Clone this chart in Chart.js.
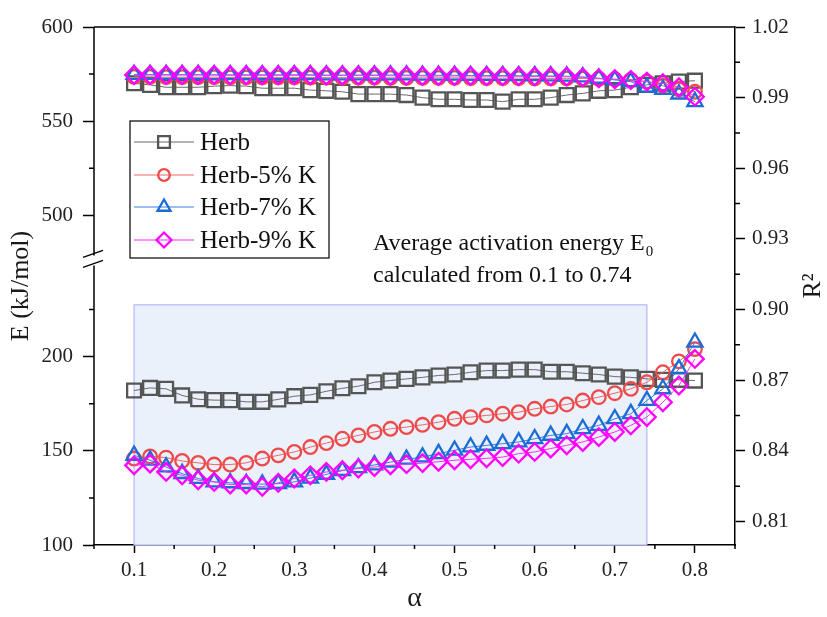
<!DOCTYPE html>
<html>
<head>
<meta charset="utf-8">
<script src="https://cdn.jsdelivr.net/npm/chart.js@4.4.0/dist/chart.umd.min.js"></script>
<style>
  html, body { margin: 0; padding: 0; background: #fff; }
</style>
</head>
<body>
<canvas id="chart" width="827" height="617"></canvas>
<script>
// conversion degree
const alpha = [0.10, 0.12, 0.14, 0.16, 0.18, 0.20, 0.22, 0.24, 0.26, 0.28, 0.30, 0.32,
               0.34, 0.36, 0.38, 0.40, 0.42, 0.44, 0.46, 0.48, 0.50, 0.52, 0.54, 0.56,
               0.58, 0.60, 0.62, 0.64, 0.66, 0.68, 0.70, 0.72, 0.74, 0.76, 0.78, 0.80];

// activation energy E (kJ/mol), left axis
const herbE = [182.0, 183.4, 182.9, 179.4, 177.4, 176.9, 176.9, 176.0, 176.0, 177.3, 179.0, 179.7,
               181.6, 183.2, 184.3, 186.4, 187.3, 188.2, 189.0, 190.0, 190.5, 191.7, 192.6, 192.6,
               193.1, 193.1, 192.0, 192.0, 191.2, 190.5, 189.4, 189.0, 188.2, 187.7, 187.7, 187.3];
const k5E   = [145.9, 147.0, 146.4, 144.6, 143.6, 142.7, 142.7, 143.6, 145.9, 147.6, 149.4, 152.0,
               154.1, 156.4, 158.2, 160.0, 161.7, 162.6, 163.8, 165.2, 167.0, 167.9, 168.8, 169.7,
               170.5, 172.3, 173.5, 174.6, 176.7, 178.5, 180.6, 182.9, 186.4, 191.7, 197.5, 204.0];
const k7E   = [147.6, 145.0, 141.4, 137.9, 135.3, 133.5, 133.0, 132.6, 132.3, 132.6, 133.5, 135.5,
               137.5, 139.5, 141.0, 142.5, 144.0, 145.5, 146.7, 148.5, 150.3, 152.0, 152.9, 153.8,
               154.7, 156.4, 158.2, 159.1, 161.7, 163.5, 167.0, 169.7, 176.7, 182.9, 193.5, 207.6];
const k9E   = [142.3, 143.2, 138.8, 137.0, 134.4, 133.5, 132.1, 132.1, 130.9, 133.0, 135.3, 137.0,
               138.8, 139.7, 140.6, 141.4, 142.3, 142.9, 143.5, 144.2, 145.0, 145.5, 146.0, 146.7,
               148.5, 149.4, 151.2, 152.9, 154.7, 157.3, 160.0, 163.5, 167.9, 175.8, 184.7, 198.8];

// correlation coefficient R2, right axis
const herbR = [0.9961, 0.9954, 0.9944, 0.9944, 0.9944, 0.9949, 0.9951, 0.9949, 0.9940, 0.9940, 0.9940, 0.9932,
               0.9929, 0.9925, 0.9915, 0.9915, 0.9915, 0.9911, 0.9900, 0.9893, 0.9893, 0.9890, 0.9890, 0.9883,
               0.9893, 0.9893, 0.9900, 0.9911, 0.9918, 0.9929, 0.9932, 0.9944, 0.9954, 0.9961, 0.9968, 0.9972];
const k5R   = [0.9988, 0.9988, 0.9987, 0.9987, 0.9987, 0.9987, 0.9986, 0.9986, 0.9986, 0.9986, 0.9986, 0.9985,
               0.9985, 0.9985, 0.9985, 0.9985, 0.9984, 0.9984, 0.9984, 0.9984, 0.9984, 0.9983, 0.9983, 0.9983,
               0.9983, 0.9982, 0.9982, 0.9982, 0.9981, 0.9980, 0.9978, 0.9975, 0.9968, 0.9950, 0.9935, 0.9925];
const k7R   = [0.9998, 0.9998, 0.9998, 0.9998, 0.9998, 0.9997, 0.9997, 0.9997, 0.9997, 0.9997, 0.9997, 0.9997,
               0.9996, 0.9996, 0.9996, 0.9996, 0.9996, 0.9996, 0.9995, 0.9995, 0.9995, 0.9994, 0.9994, 0.9994,
               0.9993, 0.9993, 0.9992, 0.9991, 0.9988, 0.9982, 0.9975, 0.9968, 0.9944, 0.9935, 0.9915, 0.9883];
const k9R   = [0.9996, 0.9996, 0.9996, 0.9996, 0.9996, 0.9996, 0.9995, 0.9995, 0.9995, 0.9995, 0.9995, 0.9995,
               0.9994, 0.9994, 0.9994, 0.9994, 0.9993, 0.9993, 0.9992, 0.9992, 0.9992, 0.9992, 0.9991, 0.9991,
               0.9991, 0.9990, 0.9990, 0.9989, 0.9986, 0.9982, 0.9978, 0.9975, 0.9968, 0.9961, 0.9944, 0.9904];

const seriesNames = ['Herb', 'Herb-5% K', 'Herb-7% K', 'Herb-9% K'];

// axis ticks (left axis is broken: 250..475 is cut out)
const xTicks = [0.1, 0.2, 0.3, 0.4, 0.5, 0.6, 0.7, 0.8];
const eTicks = [100, 150, 200, 500, 550, 600];
const r2Ticks = [0.81, 0.84, 0.87, 0.90, 0.93, 0.96, 0.99, 1.02];
const BREAK_LO = 250, BREAK_HI = 475;

// shaded averaging window
const avgFrom = 0.1, avgTo = 0.74, avgTop = 227.5;

const SERIF = '"Liberation Serif", "Times New Roman", serif';
const colors = ['#555555', '#ef4a4a', '#1c6cd6', '#ff00ff'];
const lineColors = ['#6a6a6a', '#f06666', '#3a80df', '#ff2eff'];
const styles = [
  { pointStyle: 'rect', radius: 9.8 },
  { pointStyle: 'circle', radius: 6.8 },
  { pointStyle: 'triangle', radius: 8.8 },
  { pointStyle: 'rectRot', radius: 8.8 }
];

const cut = BREAK_HI - BREAK_LO;
const toAxis = v => (v >= BREAK_HI ? v - cut : v);
const fromAxis = v => (v > BREAK_LO ? v + cut : v);

function pts(ys) {
  return alpha.map((a, i) => ({ x: a, y: toAxis(ys[i]) }));
}
function ptsR(ys) {
  return alpha.map((a, i) => ({ x: a, y: ys[i] }));
}

const eSets = [herbE, k5E, k7E, k9E];
const rSets = [herbR, k5R, k7R, k9R];
const datasets = [];
for (let i = 0; i < 4; i++) {
  const base = {
    label: seriesNames[i],
    borderColor: lineColors[i],
    borderWidth: 1,
    pointStyle: styles[i].pointStyle,
    pointRadius: styles[i].radius,
    pointBorderColor: colors[i],
    pointBackgroundColor: 'rgba(0,0,0,0)',
    pointBorderWidth: 2.3,
    showLine: true,
    order: 4 - i
  };
  datasets.push(Object.assign({}, base, { data: pts(eSets[i]), yAxisID: 'y' }));
  datasets.push(Object.assign({}, base, { data: ptsR(rSets[i]), yAxisID: 'y2' }));
}

const decor = {
  id: 'decor',
  beforeDatasetsDraw(chart) {
    const { ctx, scales: { x, y } } = chart;
    const x0 = x.getPixelForValue(avgFrom), x1 = x.getPixelForValue(avgTo);
    const yb = y.getPixelForValue(100), yt = y.getPixelForValue(avgTop);
    ctx.save();
    ctx.fillStyle = '#eaf1fa';
    ctx.fillRect(x0, yt, x1 - x0, yb - yt);
    ctx.strokeStyle = '#b2b8f5';
    ctx.lineWidth = 1.2;
    ctx.strokeRect(x0, yt, x1 - x0, yb - yt);
    ctx.restore();
  },
  afterDraw(chart) {
    const { ctx, chartArea: ca, scales: { x, y, y2 } } = chart;
    ctx.save();
    ctx.strokeStyle = '#000';
    ctx.lineWidth = 1.5;

    // top frame
    ctx.beginPath();
    ctx.moveTo(ca.left, ca.top);
    ctx.lineTo(ca.right, ca.top);
    ctx.stroke();

    // left axis with break
    const yBreak = y.getPixelForValue(BREAK_LO);
    ctx.beginPath();
    ctx.moveTo(ca.left, ca.top);
    ctx.lineTo(ca.left, yBreak - 7);
    ctx.moveTo(ca.left, yBreak + 3);
    ctx.lineTo(ca.left, ca.bottom);
    ctx.stroke();
    ctx.lineWidth = 1.3;
    ctx.beginPath();
    ctx.moveTo(ca.left - 11, yBreak - 5);
    ctx.lineTo(ca.left + 9, yBreak - 12);
    ctx.moveTo(ca.left - 11, yBreak + 5);
    ctx.lineTo(ca.left + 9, yBreak - 2);
    ctx.stroke();

    // minor ticks
    ctx.lineWidth = 1.5;
    ctx.beginPath();
    [125, 175, 225, 525, 575].forEach(v => {
      const p = y.getPixelForValue(toAxis(v));
      ctx.moveTo(ca.left - 5, p); ctx.lineTo(ca.left, p);
    });
    [0.825, 0.855, 0.885, 0.915, 0.945, 0.975, 1.005].forEach(v => {
      const p = y2.getPixelForValue(v);
      ctx.moveTo(ca.right, p); ctx.lineTo(ca.right + 5, p);
    });
    [0.05, 0.15, 0.25, 0.35, 0.45, 0.55, 0.65, 0.75, 0.85].forEach(v => {
      const p = x.getPixelForValue(v);
      ctx.moveTo(p, ca.bottom); ctx.lineTo(p, ca.bottom + 4);
    });
    ctx.stroke();

    // right axis title
    ctx.fillStyle = '#1a1a1a';
    ctx.font = '26px ' + SERIF;
    ctx.textAlign = 'center';
    ctx.textBaseline = 'middle';
    ctx.translate(813, 286);
    ctx.rotate(-Math.PI / 2);
    ctx.fillText('R²', 0, 0);
    ctx.restore();

    // legend
    ctx.save();
    const lx = 130, ly = 121, lw = 199, lh = 137;
    ctx.fillStyle = '#fff';
    ctx.fillRect(lx, ly, lw, lh);
    ctx.strokeStyle = '#000';
    ctx.lineWidth = 1.2;
    ctx.strokeRect(lx, ly, lw, lh);
    const rows = [142, 175, 207, 240];
    ctx.font = '25px ' + SERIF;
    ctx.textBaseline = 'middle';
    rows.forEach((ry, i) => {
      ctx.strokeStyle = lineColors[i];
      ctx.lineWidth = 1.2;
      ctx.beginPath();
      ctx.moveTo(134, ry); ctx.lineTo(194, ry);
      ctx.stroke();
      ctx.strokeStyle = colors[i];
      ctx.fillStyle = 'rgba(0,0,0,0)';
      ctx.lineWidth = 2.3;
      Chart.helpers.drawPoint(ctx, {
        pointStyle: styles[i].pointStyle, radius: styles[i].radius * 0.85, rotation: 0, borderWidth: 2.3
      }, 164, ry);
      ctx.fillStyle = '#111';
      ctx.fillText(seriesNames[i], 200, ry + 1);
    });

    // annotation
    ctx.textBaseline = 'alphabetic';
    ctx.font = '24px ' + SERIF;
    const line1 = 'Average activation energy E';
    ctx.fillText(line1, 373, 250);
    const w1 = ctx.measureText(line1).width;
    ctx.font = '15px ' + SERIF;
    ctx.fillText('0', 373 + w1 + 1, 256);
    ctx.font = '24px ' + SERIF;
    ctx.fillText('calculated from 0.1 to 0.74', 373, 282);
    ctx.restore();
  }
};

new Chart(document.getElementById('chart'), {
  type: 'scatter',
  data: { datasets },
  options: {
    responsive: false,
    animation: false,
    layout: { padding: { top: 27, left: 0, right: 0, bottom: 0 } },
    plugins: { legend: { display: false }, tooltip: { enabled: false } },
    scales: {
      x: {
        type: 'linear',
        min: 0.05, max: 0.85,
        afterBuildTicks: s => { s.ticks = xTicks.map(v => ({ value: v })); },
        afterFit: s => { s.height = 72; },
        ticks: { padding: 5, color: '#222', font: { family: SERIF, size: 21 }, callback: v => v.toFixed(1) },
        grid: { drawOnChartArea: false, tickLength: 8, tickColor: '#000', tickWidth: 1.5 },
        border: { color: '#000', width: 1.5 },
        title: { display: true, text: 'α', color: '#1a1a1a', font: { family: SERIF, size: 28 }, padding: { top: 0, bottom: 2 } }
      },
      y: {
        type: 'linear',
        position: 'left',
        min: 100, max: toAxis(600),
        afterBuildTicks: s => { s.ticks = eTicks.map(v => ({ value: toAxis(v) })); },
        afterFit: s => { s.width = 94; },
        ticks: { padding: 10, color: '#222', font: { family: SERIF, size: 21 }, callback: v => String(fromAxis(v)) },
        grid: { drawOnChartArea: false, tickLength: 11, tickColor: '#000', tickWidth: 1.5 },
        border: { display: false },
        title: { display: true, text: 'E (kJ/mol)', color: '#1a1a1a', font: { family: SERIF, size: 26 }, padding: { top: 6, bottom: 0 } }
      },
      y2: {
        type: 'linear',
        position: 'right',
        min: 0.80, max: 1.02,
        afterBuildTicks: s => { s.ticks = r2Ticks.map(v => ({ value: v })); },
        afterFit: s => { s.width = 92; },
        ticks: { padding: 7, color: '#222', font: { family: SERIF, size: 21 }, callback: v => v.toFixed(2) },
        grid: { drawOnChartArea: false, tickLength: 10, tickColor: '#000', tickWidth: 1.5 },
        border: { color: '#000', width: 1.5 }
      }
    }
  },
  plugins: [decor]
});
</script>
</body>
</html>
